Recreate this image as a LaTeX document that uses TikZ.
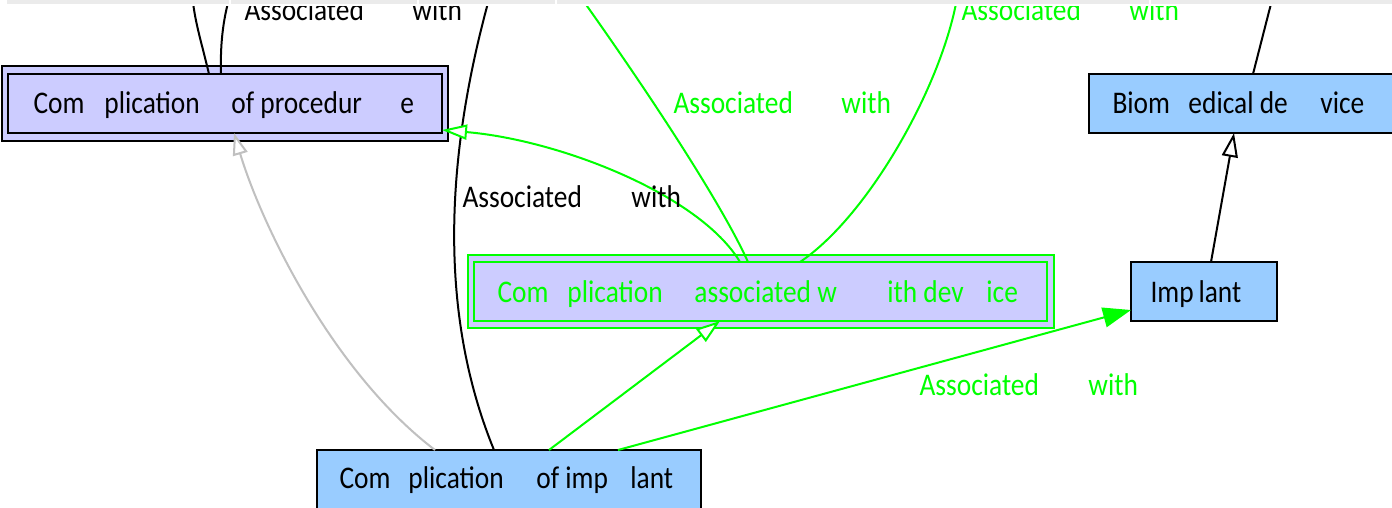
\documentclass[tikz,border=0pt]{standalone}
\usepackage{fontspec}
\setmainfont{Carlito}[FakeStretch=0.87]
\usetikzlibrary{arrows.meta,calc}
\definecolor{lav}{HTML}{CCCCFF}
\definecolor{lblue}{HTML}{99CCFF}
\definecolor{grn}{HTML}{00FF00}
\definecolor{gry}{HTML}{C0C0C0}
\definecolor{stripc}{HTML}{EBEBEB}
\newcommand\pc[2]{\makebox[0pt][l]{\hspace*{#1pt}#2}}
\begin{document}
\begin{tikzpicture}[x=1pt,y=-1pt,
  every node/.style={inner sep=0pt,outer sep=0pt},
  txt/.style={anchor=base west,font=\fontsize{31.5}{36}\selectfont},
  bx/.style={draw=black,line width=2.3pt,minimum height=59pt},
  gbx/.style={draw=grn,line width=2.3pt,minimum height=59pt},
  bline/.style={draw=black,line width=2pt},
  gline/.style={draw=grn,line width=2pt},
  grline/.style={draw=gry,line width=2pt},
  opentip/.style={-{Triangle[length=24pt,width=16pt,fill=white]}},
  filltip/.style={-{Triangle[length=28pt,width=20pt]}}]
\clip (0,0) rectangle (1392,507);
\fill[white] (0,0) rectangle (1392,507);
% boxes
\node[bx,fill=lav,minimum width=446pt,minimum height=75pt] (procout) at (225,103.5) {};
\node[bx,minimum width=434pt] (proc) at (225,103.5) {};
\node[gbx,fill=lav,minimum width=586pt,minimum height=73pt] (devout) at (761,291.5) {};
\node[gbx,minimum width=573pt] (dev) at (760.5,291.5) {};
\node[bx,fill=lblue,minimum width=384pt] (coi) at (509,479.5) {};
\node[bx,fill=lblue,minimum width=311pt] (bio) at (1244.5,103.5) {};
\node[bx,fill=lblue,minimum width=146pt] (imp) at (1204,291.5) {};
% off-picture ends
\coordinate (o1) at (192,-8);
\coordinate (o2) at (231,-8);
\coordinate (o3) at (491,-8);
\coordinate (o4) at (577,-8);
\coordinate (o5) at (958,-8);
\coordinate (o6) at (1274,-8);
% connectors
\draw[grline,-{Triangle[length=22pt,width=15pt,fill=white]}] ([xshift=118pt]coi.north west) .. controls (330,370) and (260,220) .. ([xshift=226pt]proc.south west);
\draw[bline] ([xshift=177pt]coi.north west) .. controls (445,330) and (438,180) .. (o3);
\draw[bline] ([xshift=201pt]proc.north west) .. controls (201,40) and (194,20) .. (o1);
\draw[bline] ([xshift=213pt]proc.north west) .. controls (220,40) and (224,15) .. (o2);
\draw[gline,-{Triangle[length=25pt,width=15pt,fill=white]}] ([xshift=266pt]dev.north west) .. controls (700,195) and (560,140) .. ([yshift=-26.5pt]proc.east);
\draw[gline] ([xshift=274pt]dev.north west) .. controls (720,200) and (640,80) .. (o4);
\draw[gline] ([xshift=326pt]dev.north west) .. controls (870,215) and (945,80) .. (o5);
\draw[gline,opentip] ([xshift=232pt]coi.north west) -- ([xshift=246pt]dev.south west);
\draw[gline,filltip,fill=grn] ([xshift=301pt]coi.north west) -- ([yshift=-18.5pt]imp.west);
\draw[bline,opentip] ([xshift=80pt]imp.north west) -- ([xshift=145pt]bio.south west);
\draw[bline] ([xshift=164pt]bio.north west) -- (o6);
% texts
\node[txt] (tproc) at (33,113) {\pc{0}{Com}\pc{71}{plication}\pc{198}{of procedur}\pc{367}{e}};
\node[txt,text=grn] (tdev) at (497,302) {\pc{0}{Com}\pc{70}{plication}\pc{197}{associated w}\pc{390}{ith dev}\pc{489}{ice}};
\node[txt] (tcoi) at (339,488) {\pc{0}{Com}\pc{69}{plication}\pc{197}{of imp}\pc{291}{lant}};
\node[txt] (tbio) at (1112,113) {\pc{0}{Biom}\pc{76}{edical de}\pc{208}{vice}};
\node[txt] (timp) at (1150,302) {\pc{0}{Imp}\pc{48}{lant}};
\node[txt] (l1) at (244,20) {\pc{0}{Associated}\pc{168}{with}};
\node[txt] (l2) at (462,207) {\pc{0}{Associated}\pc{169}{with}};
\node[txt,text=grn] (l3) at (673,113) {\pc{0}{Associated}\pc{168}{with}};
\node[txt,text=grn] (l4) at (961,20) {\pc{0}{Associated}\pc{168}{with}};
\node[txt,text=grn] (l5) at (919,395) {\pc{0}{Associated}\pc{169}{with}};
% top strip (drawn over the cut-off ends)
\fill[white] (0,0) rectangle (1392,6);
\fill[stripc] (7,0) rectangle (229,4);
\fill[stripc] (231,0) rectangle (417,4);
\fill[stripc] (419,0) rectangle (555,4);
\fill[stripc] (557,0) rectangle (1149,4);
\fill[stripc] (1151,0) rectangle (1392,4);
\end{tikzpicture}
\end{document}
